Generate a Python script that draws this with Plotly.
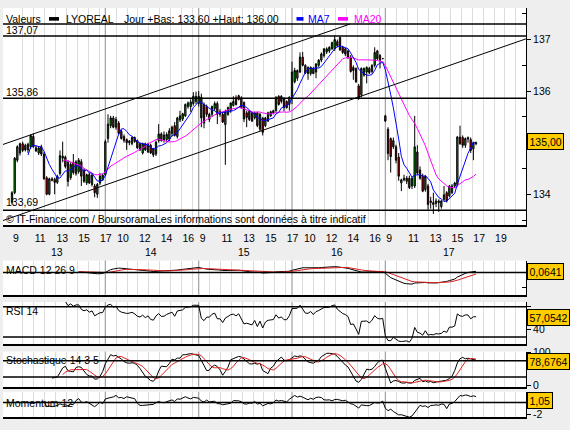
import plotly.graph_objects as go
import pandas as pd
import numpy as np

W, H = 570, 430
FONT = "Liberation Sans, Arial, sans-serif"

# ---------------- data (15-min bars, 35 per day) ----------------
days = ["13", "14", "15", "16", "17"]
bars_per_day = 35

opens = [
    # 13
    133.84, 134.03, 134.66, 134.80, 134.98, 134.95, 134.86, 134.92, 135.12, 134.90, 134.80, 134.92,
    134.78, 134.32, 134.00, 134.30, 134.29, 134.23, 134.40, 134.70, 134.72, 134.62, 134.32, 134.62,
    134.40, 134.44, 134.63, 134.47, 134.22, 134.38, 134.19, 134.16, 134.00, 134.22, 134.28,
    # 14
    134.38, 135.08, 135.33, 135.48, 135.30, 135.38, 135.22, 135.12, 135.06, 135.00, 134.98, 135.10,
    135.04, 134.98, 134.80, 134.98, 134.82, 134.95, 134.88, 134.78, 135.04, 135.17, 135.15, 135.06,
    135.07, 135.18, 135.33, 135.12, 135.44, 135.46, 135.52, 135.70, 135.70, 135.76, 135.80,
    # 15
    135.76, 135.88, 135.74, 135.70, 135.45, 135.55, 135.66, 135.76, 135.60, 135.55, 135.35, 135.55,
    135.62, 135.72, 135.87, 135.91, 135.87, 135.78, 135.58, 135.61, 135.58, 135.48, 135.58, 135.26,
    135.48, 135.33, 135.42, 135.52, 135.58, 135.62, 135.90, 135.90, 135.86, 135.80, 135.74,
    # 16
    135.87, 136.18, 136.25, 136.37, 136.66, 136.50, 136.46, 136.34, 136.44, 136.37, 136.50, 136.60,
    136.69, 136.76, 136.78, 136.82, 136.82, 136.96, 137.04, 136.85, 136.82, 136.78, 136.66, 136.46,
    136.44, 136.10, 135.93, 136.31, 136.37, 136.44, 136.38, 136.50, 136.78, 136.69, 136.63,
    # 17
    135.52, 135.26, 135.08, 135.04, 134.92, 134.72, 134.22, 134.31, 134.25, 134.31, 134.16, 134.16,
    134.82, 134.47, 134.35, 134.09, 134.16, 133.87, 133.84, 133.82, 133.87, 133.76, 133.90, 134.03,
    133.97, 134.03, 134.16, 134.19, 135.11, 135.10, 134.95, 135.10, 135.06, 134.88, 134.98,
]
highs = [
    # 13
    134.06, 134.72, 134.95, 135.00, 135.02, 134.98, 135.00, 135.16, 135.18, 134.95, 134.93, 134.96,
    134.82, 134.35, 134.32, 134.33, 134.32, 134.38, 134.85, 135.02, 134.75, 134.66, 134.62, 134.78,
    134.66, 134.70, 134.68, 134.50, 134.40, 134.42, 134.40, 134.20, 134.22, 134.41, 134.40,
    # 14
    135.06, 135.55, 135.52, 135.52, 135.50, 135.42, 135.25, 135.16, 135.08, 135.05, 135.12, 135.12,
    135.06, 135.00, 135.00, 135.00, 135.00, 134.98, 134.90, 135.04, 135.36, 135.20, 135.22, 135.20,
    135.28, 135.33, 135.40, 135.50, 135.62, 135.58, 135.76, 135.80, 135.84, 135.98, 135.99,
    # 15
    136.00, 135.95, 135.78, 135.74, 135.58, 135.72, 135.80, 135.80, 135.65, 135.58, 135.64, 135.70,
    135.78, 135.90, 135.92, 135.93, 135.90, 135.80, 135.62, 135.63, 135.60, 135.60, 135.60, 135.58,
    135.50, 135.50, 135.60, 135.62, 135.64, 135.90, 135.92, 135.92, 135.88, 135.82, 135.90,
    # 16
    136.57, 136.45, 136.42, 136.75, 136.76, 136.52, 136.48, 136.48, 136.47, 136.53, 136.62, 136.75,
    136.83, 136.85, 136.87, 136.96, 137.08, 137.00, 137.06, 136.88, 136.84, 136.80, 136.70, 136.50,
    136.46, 136.14, 136.46, 136.46, 136.48, 136.47, 136.52, 136.85, 136.80, 136.72, 136.64,
    # 17
    135.54, 135.30, 135.10, 135.10, 134.96, 134.80, 134.30, 134.38, 134.35, 134.36, 134.35, 135.52,
    134.95, 134.54, 134.40, 134.37, 134.20, 133.95, 134.03, 133.92, 133.90, 133.88, 134.16, 134.06,
    134.18, 134.20, 134.24, 135.13, 135.33, 135.14, 135.10, 135.12, 135.10, 135.02, 135.02,
]
lows = [
    # 13
    133.80, 134.00, 134.62, 134.75, 134.82, 134.83, 134.80, 134.88, 134.90, 134.82, 134.76, 134.74,
    134.28, 133.98, 133.98, 134.25, 134.00, 134.20, 134.36, 134.62, 134.50, 134.15, 134.28, 134.38,
    134.36, 134.40, 134.16, 134.22, 134.18, 134.20, 134.15, 133.94, 133.93, 134.18, 134.26,
    # 14
    134.35, 135.00, 135.28, 135.28, 135.25, 135.15, 135.06, 135.00, 134.86, 134.95, 134.95, 135.00,
    134.88, 134.84, 134.77, 134.84, 134.80, 134.78, 134.72, 134.74, 135.00, 135.02, 135.00, 135.02,
    135.03, 135.12, 135.12, 135.08, 135.40, 135.42, 135.50, 135.66, 135.60, 135.72, 135.75,
    # 15
    135.70, 135.30, 135.28, 135.50, 135.40, 135.50, 135.62, 135.36, 135.50, 135.38, 134.57, 135.52,
    135.58, 135.70, 135.72, 135.82, 135.66, 135.40, 135.30, 135.42, 135.40, 135.45, 135.30, 135.22,
    135.14, 135.30, 135.40, 135.50, 135.55, 135.60, 135.72, 135.76, 135.61, 135.66, 135.62,
    # 16
    135.75, 136.15, 136.20, 136.35, 136.48, 136.33, 136.22, 136.30, 136.33, 136.25, 136.46, 136.56,
    136.65, 136.72, 136.74, 136.80, 136.78, 136.85, 136.78, 136.72, 136.68, 136.62, 136.36, 136.22,
    136.16, 135.83, 135.88, 136.28, 136.15, 136.33, 136.34, 136.46, 136.60, 136.44, 136.62,
    # 17
    135.40, 134.66, 134.42, 134.88, 134.60, 134.26, 134.06, 134.25, 134.20, 134.10, 134.10, 134.12,
    134.38, 134.28, 134.04, 134.05, 133.70, 133.72, 133.62, 133.75, 133.66, 133.72, 133.86, 133.84,
    133.94, 134.00, 134.12, 134.15, 134.96, 134.90, 134.90, 135.00, 134.80, 134.66, 134.95,
]
closes = [
    # 13
    134.03, 134.70, 134.92, 134.98, 134.85, 134.86, 134.97, 135.14, 134.92, 134.84, 134.90, 134.78,
    134.30, 134.00, 134.30, 134.27, 134.23, 134.35, 134.75, 134.74, 134.54, 134.25, 134.58, 134.42,
    134.63, 134.66, 134.35, 134.25, 134.38, 134.22, 134.37, 134.03, 134.19, 134.35, 134.37,
    # 14
    135.02, 135.36, 135.48, 135.30, 135.45, 135.18, 135.08, 135.04, 135.00, 135.03, 135.10, 135.02,
    134.90, 134.86, 134.98, 134.86, 134.97, 134.80, 134.76, 135.01, 135.17, 135.04, 135.05, 135.16,
    135.23, 135.30, 135.14, 135.48, 135.52, 135.56, 135.74, 135.77, 135.79, 135.90, 135.90,
    # 15
    135.90, 135.48, 135.38, 135.55, 135.55, 135.70, 135.76, 135.55, 135.55, 135.40, 135.60, 135.68,
    135.77, 135.80, 135.74, 135.84, 135.68, 135.46, 135.49, 135.45, 135.42, 135.58, 135.33, 135.55,
    135.20, 135.48, 135.58, 135.60, 135.62, 135.88, 135.74, 135.80, 135.68, 135.68, 135.88,
    # 16
    136.37, 136.40, 136.40, 136.66, 136.50, 136.35, 136.34, 136.46, 136.34, 136.53, 136.60, 136.72,
    136.82, 136.82, 136.85, 136.94, 137.00, 136.88, 136.80, 136.75, 136.72, 136.66, 136.38, 136.40,
    136.18, 135.87, 136.44, 136.44, 136.46, 136.36, 136.50, 136.75, 136.63, 136.60, 136.63,
    # 17
    135.42, 134.79, 134.73, 134.92, 134.66, 134.35, 134.28, 134.28, 134.31, 134.13, 134.31, 134.92,
    134.41, 134.31, 134.06, 134.35, 133.80, 133.84, 133.80, 133.87, 133.84, 133.87, 133.99, 133.87,
    134.16, 134.16, 134.22, 135.11, 134.98, 134.95, 135.08, 135.07, 134.85, 135.00, 135.00,
]

# horizontal support / resistance levels
levels = [137.07, 135.86, 133.69]
level_labels = ["137,07", "135,86", "133,69"]
# trend channel end points (bar index, price)
upper_channel_x = [-3.4, 126.7]
upper_channel_y = [134.965, 137.30]
lower_channel_x = [-3.4, 192.7]
lower_channel_y = [133.49, 137.013]

# axis tick labels (hours shown per day)
label_hours = [[9, 11, 13, 15, 17], [10, 12, 14, 16], [9, 11, 13, 15, 17],
               [10, 12, 14, 16], [9, 11, 13, 15, 17, 19]]
price_ticks = [134, 135, 136, 137]
price_tick_text = ["134", "", "136", "137"]   # 135 sits under the last-price box

# indicator reference values shown in boxes
last_price_text = "135,00"
macd_text = "0,0641"
rsi_text = "57,0542"
stoch_text = "78,6764"
mom_text = "1,05"

# ---------------- indicators ----------------
c = pd.Series(closes)
hi = pd.Series(highs)
lo = pd.Series(lows)
xi = list(range(len(closes)))

ma7 = c.rolling(7).mean()
ma20 = c.rolling(20).mean()
ema12 = c.ewm(span=12, adjust=False).mean()
ema26 = c.ewm(span=26, adjust=False).mean()
macd = ema12 - ema26
sig = macd.ewm(span=9, adjust=False).mean()
macd[:25] = np.nan
sig[:25] = np.nan
delta = c.diff()
gain = delta.clip(lower=0).ewm(alpha=1 / 14, adjust=False).mean()
loss = (-delta.clip(upper=0)).ewm(alpha=1 / 14, adjust=False).mean()
rsi = 100 - 100 / (1 + gain / loss)
rsi[:13] = np.nan
ll = lo.rolling(14).min()
hh = hi.rolling(14).max()
rawk = 100 * (c - ll) / (hh - ll)
stk = rawk.rolling(3).mean()
std = stk.rolling(5).mean()
mom = c - c.shift(12)

# ---------------- layout helpers ----------------
def px(x):
    return x / W


def py(y):
    return 1 - y / H


hour_w = bars_per_day * 60 / 515.0
tickvals, ticktext = [], []
for d, hs in enumerate(label_hours):
    for h in hs:
        tickvals.append(d * bars_per_day + (h - 9) * hour_w)
        ticktext.append(str(h))
grid_vals = []
for d in range(len(days)):
    last_h = 17 if d < len(days) - 1 else 21
    for h in range(10, last_h + 1):
        grid_vals.append(d * bars_per_day + (h - 9) * hour_w)
separators = [d * bars_per_day for d in range(1, len(days))]

xr = [-3.375, 192.74]
xdom = [px(3), px(526)]
doms = {
    "y": [py(225), py(3)],
    "y2": [py(296), py(261)],
    "y3": [py(346), py(303.3)],
    "y4": [py(390), py(354)],
    "y5": [py(420.7), py(395)],
}

fig = go.Figure()

# main panel
fig.add_trace(go.Candlestick(
    x=xi, open=opens, high=highs, low=lows, close=closes,
    increasing=dict(fillcolor="#00B000", line=dict(color="black", width=1)),
    decreasing=dict(fillcolor="#D00000", line=dict(color="black", width=1)),
    whiskerwidth=0, showlegend=False, hoverinfo="skip", xaxis="x", yaxis="y"))
fig.add_trace(go.Scatter(x=xi, y=ma20, mode="lines", line=dict(color="#FF00FF", width=1),
                         showlegend=False, xaxis="x", yaxis="y"))
fig.add_trace(go.Scatter(x=xi, y=ma7, mode="lines", line=dict(color="#0000FF", width=1),
                         showlegend=False, xaxis="x", yaxis="y"))
fig.add_trace(go.Scatter(x=upper_channel_x, y=upper_channel_y, mode="lines",
                         line=dict(color="black", width=1), showlegend=False, xaxis="x", yaxis="y"))
fig.add_trace(go.Scatter(x=lower_channel_x, y=lower_channel_y, mode="lines",
                         line=dict(color="black", width=1), showlegend=False, xaxis="x", yaxis="y"))

# MACD
fig.add_trace(go.Scatter(x=xi, y=macd, mode="lines", line=dict(color="black", width=1),
                         showlegend=False, xaxis="x2", yaxis="y2"))
fig.add_trace(go.Scatter(x=xi, y=sig, mode="lines", line=dict(color="#DD2020", width=1),
                         showlegend=False, xaxis="x2", yaxis="y2"))
# RSI
fig.add_trace(go.Scatter(x=xi, y=rsi, mode="lines", line=dict(color="black", width=1),
                         showlegend=False, xaxis="x3", yaxis="y3"))
# Stochastic
fig.add_trace(go.Scatter(x=xi, y=stk, mode="lines", line=dict(color="black", width=1),
                         showlegend=False, xaxis="x4", yaxis="y4"))
fig.add_trace(go.Scatter(x=xi, y=std, mode="lines", line=dict(color="#DD2020", width=1),
                         showlegend=False, xaxis="x4", yaxis="y4"))
# Momentum
fig.add_trace(go.Scatter(x=xi, y=mom, mode="lines", line=dict(color="black", width=1),
                         showlegend=False, xaxis="x5", yaxis="y5"))

tickfont = dict(family=FONT, size=10.5, color="black")
minor_grid = dict(tickvals=grid_vals, showgrid=True, gridcolor="#DCDCDC", gridwidth=1, ticks="")

layout = dict(
    width=W, height=H, margin=dict(l=0, r=0, t=0, b=0),
    paper_bgcolor="#EEEEEE", plot_bgcolor="white",
    font=dict(family=FONT, size=10.5, color="black"),
    showlegend=False,
)
for i, ya in enumerate(["y", "y2", "y3", "y4", "y5"]):
    xname = "xaxis" if i == 0 else f"xaxis{i + 1}"
    xa = dict(range=xr, domain=xdom, anchor=ya, showgrid=False, zeroline=False,
              minor=minor_grid, showline=True, linecolor="black", linewidth=2,
              fixedrange=True, rangeslider=dict(visible=False))
    if i == 0:
        xa.update(tickmode="array", tickvals=tickvals, ticktext=ticktext, ticks="",
                  ticklabelposition="outside right", tickfont=tickfont, ticklabelstandoff=2,
                  tickangle=0)
    else:
        xa.update(matches="x", showticklabels=False, ticks="")
    layout[xname] = xa

common_y = dict(side="right", showline=True, linecolor="black", linewidth=1,
                showgrid=False, zeroline=False, fixedrange=True, tickfont=tickfont,
                ticks="outside", ticklen=4, tickcolor="black")
layout["yaxis"] = dict(common_y, domain=doms["y"], anchor="x", range=[133.398, 137.613],
                       tickmode="array", tickvals=price_ticks, ticktext=price_tick_text,
                       minor=dict(tickvals=[133.5, 134.5, 135.5, 136.5, 137.5], ticks="inside",
                                  ticklen=4, tickcolor="black", showgrid=False))
layout["yaxis2"] = dict(common_y, domain=doms["y2"], anchor="x2", range=[-1.135, 0.615],
                        tickmode="array", tickvals=[-0.75], ticktext=[""], ticks="inside")
layout["yaxis3"] = dict(common_y, domain=doms["y3"], anchor="x3", range=[20.9, 76.5],
                        tickmode="array", tickvals=[40, 50, 60, 70], ticktext=["40", "", "", ""])
layout["yaxis4"] = dict(common_y, domain=doms["y4"], anchor="x4", range=[-5, 103],
                        tickmode="array", tickvals=[0, 50, 100], ticktext=["0", "", "100"])
layout["yaxis5"] = dict(common_y, domain=doms["y5"], anchor="x5", range=[-2.45, 1.83],
                        tickmode="array", tickvals=[-2, -1, 1], ticktext=["-2", "", ""])
fig.update_layout(**layout)

shapes = []
# white header band of the main panel and its underline
shapes.append(dict(type="rect", xref="paper", yref="paper", x0=px(3), x1=px(526),
                   y0=py(19.3), y1=py(3), fillcolor="white", line=dict(width=0), layer="below"))
shapes.append(dict(type="line", xref="paper", yref="paper", x0=px(3), x1=px(526),
                   y0=py(19.3), y1=py(19.3), line=dict(color="black", width=1.5)))
# day separators in every panel
for i, ya in enumerate(["y", "y2", "y3", "y4", "y5"]):
    xn = "x" if i == 0 else f"x{i + 1}"
    for s in separators:
        shapes.append(dict(type="line", xref=xn, yref=f"{ya} domain", x0=s, x1=s, y0=0, y1=1,
                           line=dict(color="#A0A0A0", width=1.2), layer="below"))
# level lines
for lv in levels:
    shapes.append(dict(type="line", xref="x domain", yref="y", x0=0, x1=1, y0=lv, y1=lv,
                       line=dict(color="black", width=1.5)))
for ya, xn, vals in [("y2", "x2", [0]), ("y3", "x3", [70, 30]), ("y4", "x4", [75, 25]),
                     ("y5", "x5", [0])]:
    for v in vals:
        shapes.append(dict(type="line", xref=f"{xn} domain", yref=ya, x0=0, x1=1, y0=v, y1=v,
                           line=dict(color="black", width=1.5)))
# header legend swatches
shapes.append(dict(type="rect", xref="paper", yref="paper", x0=px(49), x1=px(59),
                   y0=py(16), y1=py(12.3), fillcolor="black", line=dict(width=0)))
shapes.append(dict(type="rect", xref="paper", yref="paper", x0=px(296.5), x1=px(303.5),
                   y0=py(16), y1=py(12.3), fillcolor="#0000FF", line=dict(width=0)))
shapes.append(dict(type="rect", xref="paper", yref="paper", x0=px(338), x1=px(348),
                   y0=py(16), y1=py(12.3), fillcolor="#FF00FF", line=dict(width=0)))
fig.update_layout(shapes=shapes)

ann = []


def text(x, y, s, color="black", size=10.5, xanchor="left"):
    ann.append(dict(x=px(x), y=py(y), xref="paper", yref="paper", text=s, showarrow=False,
                    xanchor=xanchor, yanchor="middle",
                    font=dict(family=FONT, size=size, color=color)))


text(4, 14, "Valeurs")
text(64, 14, "LYOREAL")
text(122, 14, "Jour +Bas: 133,60 +Haut: 136,00")
text(306, 14, "MA7", color="#0000FF")
text(352, 14, "MA20", color="#FF00FF")
for lbl, y in zip(level_labels, [25.5, 89, 201.7]):
    text(4, y, lbl)
text(4, 219, "© IT-Finance.com / BoursoramaLes informations sont données à titre indicatif")
text(4, 270.5, "MACD 12 26 9")
text(4, 312.3, "RSI 14")
text(4, 363, "Stochastique 14 3 5")
text(4, 406, "Momentum 12")

# day labels under the hour labels
for d, pos in zip(days, [17, 52, 87, 122, 164]):
    ann.append(dict(x=pos, y=py(252.5), xref="x", yref="paper", text=d, showarrow=False,
                    xanchor="center", yanchor="middle", font=dict(family=FONT, size=10.5)))

# value boxes
for s, y in [(last_price_text, 139.5), (macd_text, 272), (rsi_text, 319.3),
             (stoch_text, 364.2), (mom_text, 404.2)]:
    ann.append(dict(x=px(527), y=py(y), xref="paper", yref="paper", text=s, showarrow=False,
                    xanchor="left", yanchor="middle", bgcolor="#FFCC00", bordercolor="black",
                    borderwidth=1, borderpad=1.5, font=dict(family=FONT, size=10.5, color="black")))
fig.update_layout(annotations=ann)

fig.write_html("out.html")
